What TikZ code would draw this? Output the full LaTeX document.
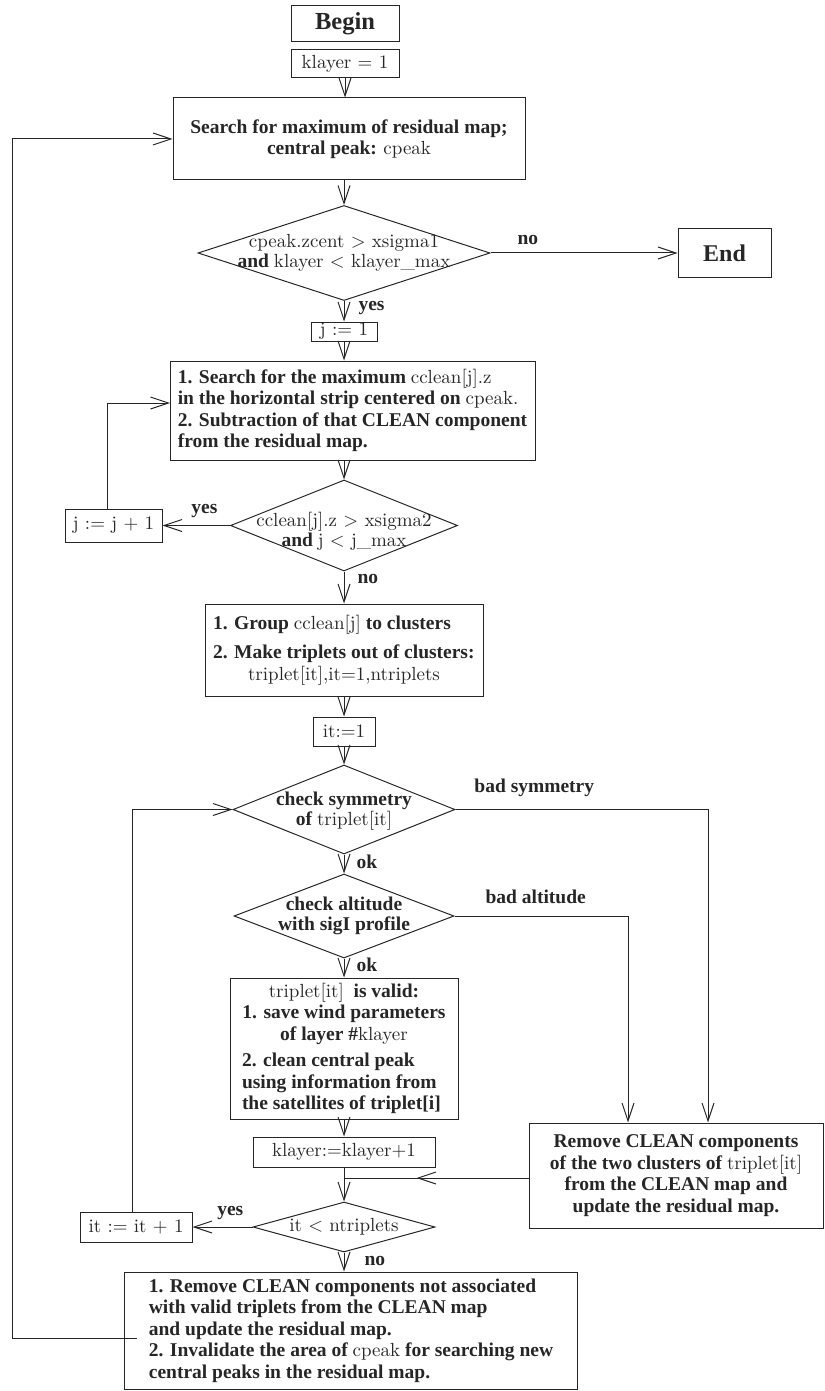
\documentclass[tikz,border=0pt]{standalone}
\usepackage{fontspec}
\setmainfont{Liberation Serif}
\newfontfamily\codefont{lmroman10-regular.otf}
\usepackage{tikz}
\usetikzlibrary{arrows.meta,shapes.geometric,positioning}

\newcommand{\cvar}[1]{{\codefont\mdseries\fontsize{19bp}{21.5bp}\selectfont #1}}

\begin{document}
\begin{tikzpicture}[x=1bp,y=-1bp,>={Straight Barb[length=18bp,width=12bp]},
  line width=1bp,color=black!85,
  box node/.style={rectangle,draw,inner sep=2bp,align=center,
    font=\fontsize{19.5bp}{21.5bp}\selectfont\bfseries},
  code node/.style={box node,font=\codefont\fontsize{19bp}{21.5bp}\selectfont},
  dec node/.style={diamond,draw,inner sep=0pt},
  dec text/.style={align=center,inner sep=0pt,
    font=\fontsize{19.5bp}{20bp}\selectfont\bfseries},
  lbl/.style={inner sep=2bp,font=\fontsize{19.5bp}{21.5bp}\selectfont\bfseries}]
  \useasboundingbox (0,0) rectangle (824,1391);

  % main column
  \node[box node,minimum width=108bp,minimum height=36bp,
    font=\fontsize{24.5bp}{26bp}\selectfont\bfseries] (begin) at (345,24) {Begin};
  \node[code node,minimum width=108bp,minimum height=28bp] (kinit) at (345,64) {klayer = 1};
  \node[box node,minimum width=352bp,minimum height=82bp] (search) at (349,139)
    {Search for maximum of residual map;\\ central peak: \cvar{cpeak}};
  \node[dec node,minimum width=292bp,minimum height=95bp,
    label={[dec text]center:{\cvar{cpeak.zcent > xsigma1}\\and \cvar{klayer < klayer\_max}}}]
    (cond1) at (344,253) {};
  \node[box node,minimum width=93bp,minimum height=49bp,
    font=\fontsize{24bp}{26bp}\selectfont\bfseries] (end) at (724.5,253) {End};
  \node[code node,minimum width=66bp,minimum height=19bp,inner sep=0pt] (jinit) at (344,331.5) {j := 1};
  \node[box node,align=left,minimum width=365bp,minimum height=99bp] (strip) at (352.5,410.5)
    {1. Search for the maximum \cvar{cclean[j].z}\\
     in the horizontal strip centered on \cvar{cpeak.}\\
     2. Subtraction of that CLEAN component\\
     from the residual map.};
  \node[dec node,minimum width=227bp,minimum height=91bp,
    label={[dec text,yshift=-6bp]center:{\cvar{cclean[j].z > xsigma2}\\and \cvar{j < j\_max}}}]
    (cond2) at (344,525.5) {};
  \node[code node,minimum width=97bp,minimum height=33bp] (jinc) at (113.5,525.5) {j := j + 1};
  \node[box node,minimum width=278bp,minimum height=92bp] (group) at (344,650)
    {\makebox[262bp][l]{1. Group \cvar{cclean[j]} to clusters}\\[8bp]
     \makebox[262bp][l]{2. Make triplets out of clusters:}\\
     \cvar{triplet[it],it=1,ntriplets}};
  \node[code node,minimum width=62bp,minimum height=29bp] (itinit) at (344,731.5) {it:=1};
  \node[dec node,minimum width=222bp,minimum height=89bp,
    label={[dec text,yshift=-2bp]center:{check symmetry\\of \cvar{triplet[it]}}}]
    (sym) at (344,809.5) {};
  \node[dec node,minimum width=220bp,minimum height=84bp,
    label={[dec text]center:{check altitude\\with sigI profile}}] (alt) at (344,916) {};
  \node[box node,minimum width=228bp,minimum height=141bp] (valid) at (344,1048.5)
    {\cvar{triplet[it]}\ \ is valid:\\
     1. save wind parameters\\
     of layer \#\cvar{klayer}\\[5bp]
     \makebox[204bp][l]{2. clean central peak}\\
     \makebox[204bp][l]{using information from}\\
     \makebox[204bp][l]{the satellites of triplet[i]}};
  \node[code node,minimum width=182bp,minimum height=30bp] (kinc) at (344,1152) {klayer:=klayer+1};
  \node[dec node,minimum width=182bp,minimum height=50bp,
    label={[dec text]center:{\cvar{it < ntriplets}}}] (more) at (344,1227) {};
  \node[code node,minimum width=112bp,minimum height=30bp] (itinc) at (136,1227) {it := it + 1};
  \node[box node,align=left,minimum width=452bp,minimum height=117bp] (final) at (351,1330.5)
    {1. Remove CLEAN components not associated\\
     with valid triplets from the CLEAN map\\
     and update the residual map.\\
     2. Invalidate the area of \cvar{cpeak} for searching new\\
     central peaks in the residual map.};

  % right column
  \node[box node,minimum width=294bp,minimum height=105bp] (remove) at (676,1175.5)
    {Remove CLEAN components\\ of the two clusters of \cvar{triplet[it]}\\
     from the CLEAN map and\\ update the residual map.};

  \coordinate (jback) at (170,403);
  \coordinate (merge) at (344,1178);
  \coordinate (back) at (137,1338);

  % connectors
  \draw[->] (kinit) -- (kinit |- search.north);
  \draw[->] (search.south -| cond1.north) -- (cond1.north);
  \draw[->] (cond1.east) -- node[lbl,pos=0.2,above=6bp] {no} (cond1.east -| end.west);
  \draw[->] (cond1) -- node[lbl,pos=0.36,right=12bp] {yes} (jinit);
  \draw[->] (jinit) -- (jinit |- strip.north);
  \draw[->] (strip.south -| cond2.north) -- (cond2.north);
  \draw[->] (cond2) -- node[lbl,pos=0.38,above=5bp] {yes} (jinc);
  \draw[->] ([xshift=-6.5bp]jinc.north) |- (jback);
  \draw[->] (cond2) -- node[lbl,pos=0.24,right=11bp] {no} (group);
  \draw[->] (group) -- (itinit);
  \draw[->] (itinit) -- (sym);
  \draw[->] (sym) -- node[lbl,pos=0.4,right=10bp] {ok} (alt);
  \draw[->] (alt) -- node[lbl,pos=0.35,right=10bp] {ok} (valid);
  \draw[->] (valid) -- (kinc);
  \draw[->] (kinc) -- (more);
  \draw[->] (sym.east) -| node[lbl,pos=0.156,above=10bp] {bad symmetry} ([xshift=32bp]remove.north);
  \draw[->] (alt.east) -| node[lbl,pos=0.234,above=10bp] {bad altitude} ([xshift=-48bp]remove.north);
  \draw (remove.west |- merge) -- (merge);
  \draw[->] (remove.west |- merge) -- ++(-112,0);
  \draw[->] (more) -- node[lbl,pos=0.37,above=5bp] {yes} (itinc);
  \draw[->] ([xshift=-4bp]itinc.north) |- (sym.west);
  \draw[->] (more) -- node[lbl,pos=0.45,right=18bp] {no} (more |- final.north);
  \draw[->] (back) -- ++(-125,0) |- (search.west);
\end{tikzpicture}
\end{document}
